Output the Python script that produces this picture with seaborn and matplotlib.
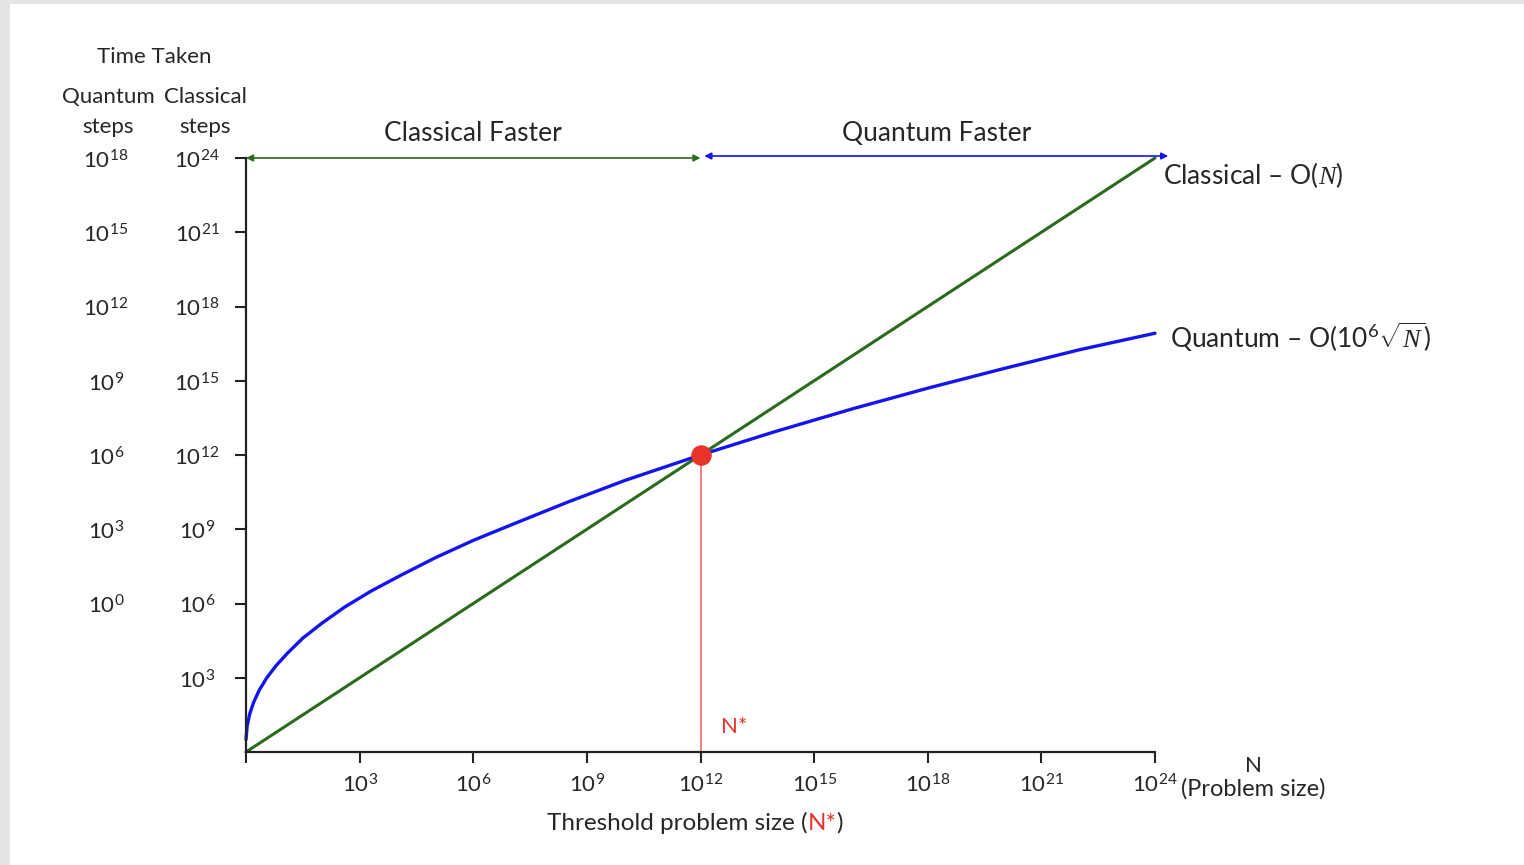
import numpy as np
import pandas as pd
import matplotlib
matplotlib.use("Agg")
import matplotlib.pyplot as plt
from matplotlib.patches import Rectangle
from matplotlib.transforms import blended_transform_factory
import seaborn as sns

# all values are powers of ten (log10 of N and of steps)
classical_x = [0, 24]
classical_y = [0, 24]

# quantum curve
quantum_x = [0, 0.03, 0.1, 0.2, 0.35, 0.55, 0.8, 1.1, 1.5, 2.0, 2.6, 3.3, 4.1,
             5.0, 6.0, 7.2, 8.5, 10, 12, 14, 16, 18, 20, 22, 24]
quantum_y = [0.5, 1.05, 1.55, 2.0, 2.5, 3.0, 3.5, 4.0, 4.6, 5.2, 5.85, 6.5, 7.15,
             7.85, 8.55, 9.3, 10.1, 10.97, 12.0, 12.96, 13.86, 14.70, 15.49, 16.25, 16.92]

threshold = 12
x_ticks = [3, 6, 9, 12, 15, 18, 21, 24]
y_ticks = [3, 6, 9, 12, 15, 18, 21, 24]
classical_labels = ["3", "6", "9", "12", "15", "18", "21", "24"]
quantum_labels = ["", "0", "3", "6", "9", "12", "15", "18"]

sns.set_style("white")
plt.rcParams["font.family"] = ["Lato", "DejaVu Sans"]
plt.rcParams["mathtext.fontset"] = "custom"
plt.rcParams["mathtext.rm"] = "Lato"
plt.rcParams["mathtext.it"] = "Liberation Serif:italic"
plt.rcParams["mathtext.default"] = "rm"

GREEN = "#2b6a1c"
BLUE = "#1414f0"
RED = "#e8332a"
FS = 16

fig = plt.figure(figsize=(15.24, 8.65), dpi=100, facecolor="white")
# light grey frame strips at left and top edge
fig.patches.append(Rectangle((0, 0), 10 / 1524, 1, transform=fig.transFigure,
                             facecolor="#e4e4e4", edgecolor="none", zorder=-1))
fig.patches.append(Rectangle((0, 1 - 4 / 865), 1, 4 / 865, transform=fig.transFigure,
                             facecolor="#e4e4e4", edgecolor="none", zorder=-1))
ax = fig.add_axes([246 / 1524, 1 - 752 / 865, 909 / 1524, 594 / 865])
ax.set_facecolor("none")

ax.axvline(24, color="#eeeeee", lw=1, zorder=0)

df_c = pd.DataFrame({"x": classical_x, "y": classical_y})
df_q = pd.DataFrame({"x": quantum_x, "y": quantum_y})
sns.lineplot(data=df_c, x="x", y="y", color=GREEN, lw=2.2, ax=ax, clip_on=False)
sns.lineplot(data=df_q, x="x", y="y", color=BLUE, lw=2.4, ax=ax, clip_on=False)

ax.plot([threshold, threshold], [0, threshold], color="#f07c78", lw=1.4, zorder=1)
ax.scatter([threshold], [threshold], s=190, color=RED, zorder=5, clip_on=False)

ax.set_xlim(0, 24)
ax.set_ylim(0, 24)
for s in ["top", "right"]:
    ax.spines[s].set_visible(False)
for s in ["left", "bottom"]:
    ax.spines[s].set_linewidth(1.6)
    ax.spines[s].set_color("#222222")

ax.set_xticks([0] + x_ticks)
ax.set_xticklabels([""] + [f"$10^{{{t}}}$" for t in x_ticks], fontsize=FS)
ax.set_yticks(y_ticks)
ax.set_yticklabels([])
ax.tick_params(axis="both", direction="out", length=8, width=1.5, color="#222222",
               bottom=True, left=True)
ax.tick_params(axis="x", pad=7)
ax.set_xlabel("")
ax.set_ylabel("")

# y tick label columns
ty = blended_transform_factory(ax.transAxes, ax.transData)
for t, c, q in zip(y_ticks, classical_labels, quantum_labels):
    ax.text(-49 / 909, t - 0.42, f"$10^{{{c}}}$", transform=ty, ha="center",
            va="baseline", fontsize=FS)
    if q:
        ax.text(-140 / 909, t - 0.42, f"$10^{{{q}}}$", transform=ty, ha="center",
                va="baseline", fontsize=FS)

ax.text(-92 / 909, 1 + 101 / 594, "Time Taken", transform=ax.transAxes,
        ha="center", va="center", fontsize=FS)
ax.text(-138 / 909, 1 + 61 / 594, "Quantum", transform=ax.transAxes,
        ha="center", va="center", fontsize=FS)
ax.text(-41 / 909, 1 + 61 / 594, "Classical", transform=ax.transAxes,
        ha="center", va="center", fontsize=FS)
ax.text(-138 / 909, 1 + 31 / 594, "steps", transform=ax.transAxes,
        ha="center", va="center", fontsize=FS)
ax.text(-41 / 909, 1 + 31 / 594, "steps", transform=ax.transAxes,
        ha="center", va="center", fontsize=FS)

# region arrows
ax.annotate("", xy=(0, 24), xytext=(12.0, 24), annotation_clip=False,
            arrowprops=dict(arrowstyle="<|-|>", color=GREEN, lw=1.2,
                            mutation_scale=10, shrinkA=0, shrinkB=0))
ax.annotate("", xy=(12.1, 24.08), xytext=(24.35, 24.08), annotation_clip=False,
            arrowprops=dict(arrowstyle="<|-|>", color=BLUE, lw=1.2,
                            mutation_scale=10, shrinkA=0, shrinkB=0))
ax.text(5.98, 25.0, "Classical Faster", ha="center", va="center", fontsize=FS + 3)
ax.text(18.23, 25.0, "Quantum Faster", ha="center", va="center", fontsize=FS + 3)

# line labels
ax.text(24.2, 23.3, "Classical – O($\\mathit{N}$)", ha="left", va="center",
        fontsize=FS + 3, clip_on=False)
ax.text(24.4, 16.76, "Quantum – O($10^6\\sqrt{\\mathit{N}}$)", ha="left", va="center",
        fontsize=FS + 3, clip_on=False)

ax.text(12.55, 1.0, "N*", color=RED, ha="left", va="center", fontsize=FS)

# x axis labels
ax.text(26.6, -0.55, "N", ha="center", va="center", fontsize=FS, clip_on=False)
ax.text(26.6, -1.5, "(Problem size)", ha="center", va="center", fontsize=FS + 1,
        clip_on=False)

t1 = ax.text(0.618, -78 / 594, "Threshold problem size (", transform=ax.transAxes,
             ha="right", va="baseline", fontsize=FS + 1.5)
t2 = ax.annotate("N*", xy=(1, 0), xycoords=t1, ha="left", va="bottom",
                 color=RED, fontsize=FS + 1.5)
ax.annotate(")", xy=(1, 0), xycoords=t2, ha="left", va="bottom", fontsize=FS + 1.5)

fig.savefig("out.png", dpi=100)
